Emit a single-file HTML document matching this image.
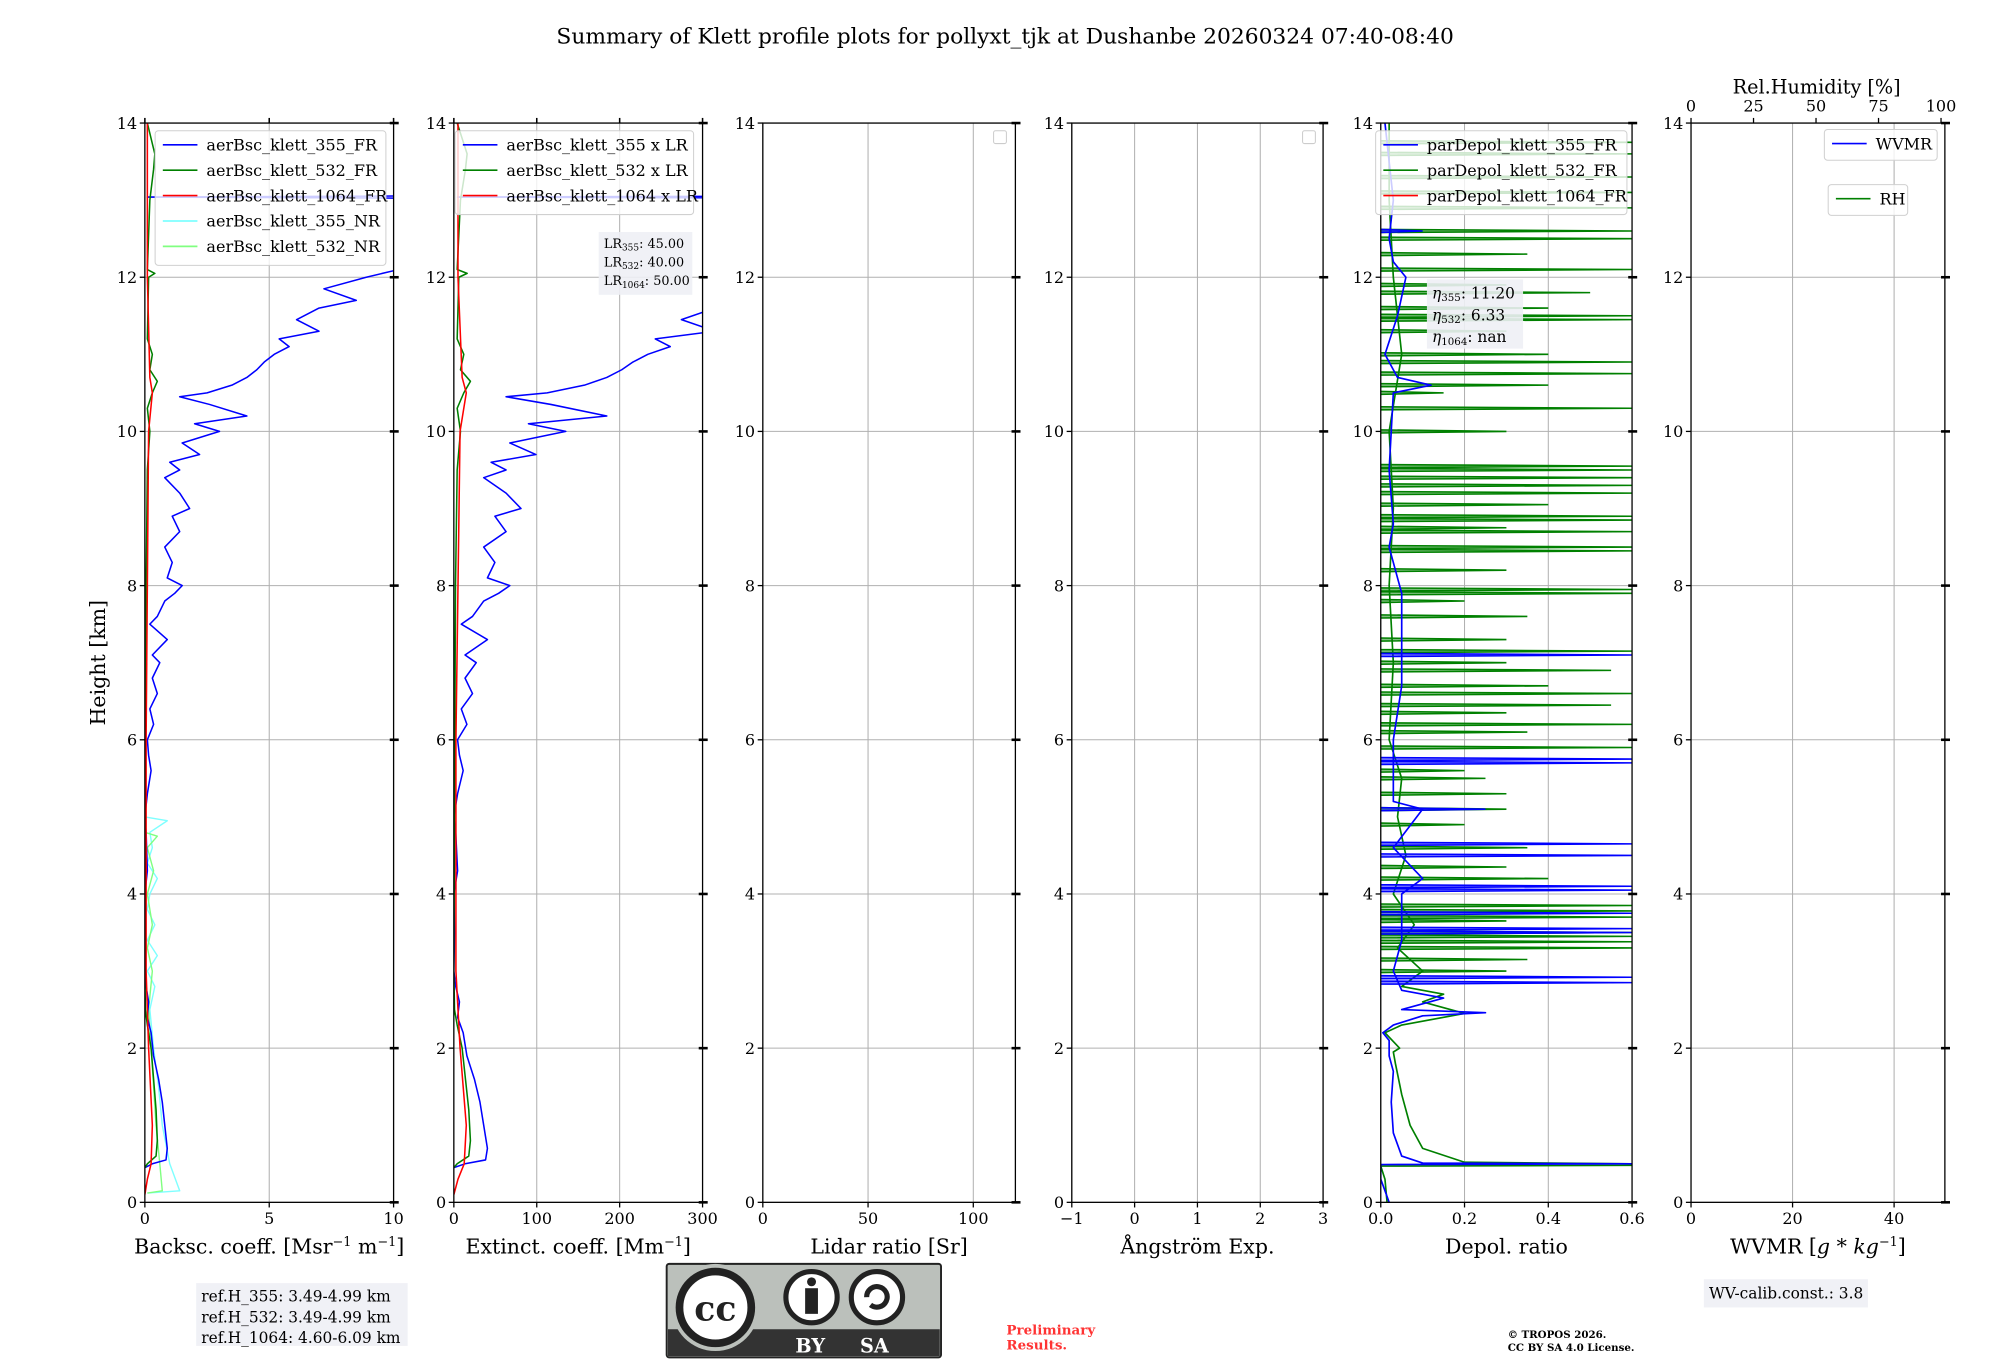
<!DOCTYPE html>
<html><head><meta charset="utf-8">
<style>
html,body{margin:0;padding:0;background:#fff;}
svg{display:block;}
text{font-family:"DejaVu Serif","Liberation Serif",serif;}
</style></head>
<body>
<svg id="fig" width="2000" height="1360" viewBox="0 0 1560 1061" preserveAspectRatio="none" xmlns="http://www.w3.org/2000/svg">
<rect x="0" y="0" width="1560" height="1061" fill="#fff"/>
<text x="784" y="34" font-size="17" text-anchor="middle">Summary of Klett profile plots for pollyxt_tjk at Dushanbe 20260324 07:40-08:40</text>
<text transform="translate(82,517) rotate(-90)" font-size="16" text-anchor="middle">Height [km]</text>
</svg>
<script>
// ---- data (height km, value) ----
const heightTicks = [0,2,4,6,8,10,12,14];
const lidarRatios = [45,40,50];
const bsc355FR = [[0.45,0.0],[0.5,0.3],[0.55,0.85],[0.7,0.9],[1.0,0.8],[1.3,0.7],[1.6,0.55],[1.9,0.35],[2.2,0.25],[2.4,0.1],[2.6,0.15],[2.8,0.05],[3.0,0.0],[3.5,0.02],[4.0,0.0],[4.3,0.1],[4.8,0.05],[5.0,0.0],[5.3,0.1],[5.6,0.25],[5.8,0.15],[6.0,0.1],[6.2,0.35],[6.4,0.2],[6.6,0.5],[6.8,0.3],[7.0,0.6],[7.1,0.3],[7.3,0.9],[7.5,0.2],[7.6,0.5],[7.8,0.8],[7.9,1.2],[8.0,1.5],[8.1,0.9],[8.3,1.1],[8.5,0.8],[8.7,1.4],[8.9,1.1],[9.0,1.8],[9.2,1.4],[9.4,0.8],[9.5,1.4],[9.6,1.0],[9.7,2.2],[9.85,1.5],[10.0,3.0],[10.1,2.0],[10.2,4.1],[10.35,2.6],[10.45,1.4],[10.5,2.5],[10.6,3.5],[10.7,4.1],[10.8,4.5],[10.9,4.8],[11.0,5.2],[11.1,5.8],[11.2,5.4],[11.3,7.0],[11.45,6.1],[11.6,7.0],[11.7,8.5],[11.85,7.2],[12.0,8.9],[12.1,10.2],[12.2,15],[13.02,15],[13.04,0.1],[13.06,15],[14,15]];
const bsc532FR = [[0.45,0],[0.5,0.1],[0.6,0.45],[0.8,0.5],[1.2,0.45],[1.6,0.35],[2.0,0.25],[2.3,0.1],[2.5,0.02],[3,0],[5,0.02],[8,0.05],[9.5,0.1],[10,0.2],[10.3,0.1],[10.5,0.3],[10.65,0.5],[10.8,0.2],[11,0.3],[11.2,0.1],[12,0.15],[12.05,0.4],[12.1,0.1],[13,0.2],[13.4,0.35],[13.6,0.4],[14,0.1]];
const bsc1064FR = [[0.1,0],[0.3,0.1],[0.5,0.25],[1,0.3],[2,0.15],[3,0.05],[6,0.05],[10,0.15],[10.5,0.3],[10.7,0.2],[12,0.1],[14,0.1]];
const bsc355NR = [[0.12,0.1],[0.15,1.4],[0.5,1.0],[1,0.7],[1.5,0.55],[2,0.35],[2.5,0.2],[2.8,0.4],[3.0,0.1],[3.2,0.5],[3.4,0.1],[3.6,0.4],[3.8,0.1],[4.0,0.2],[4.2,0.5],[4.4,0.1],[4.6,0.3],[4.8,0.2],[4.95,0.9],[5.0,0.0]];
const bsc532NR = [[0.12,0.1],[0.15,0.7],[0.5,0.6],[1,0.45],[2,0.25],[2.5,0.15],[3,0.3],[3.3,0.1],[3.6,0.3],[4,0.1],[4.3,0.35],[4.6,0.1],[4.75,0.5],[4.8,0.0]];
const depol355 = [[0,0.02],[0.3,0],[0.49,0.0],[0.5,0.6],[0.51,0.1],[0.6,0.05],[0.9,0.03],[1.3,0.025],[1.7,0.03],[1.9,0.02],[2.1,0.02],[2.2,0.005],[2.3,0.03],[2.42,0.1],[2.46,0.25],[2.5,0.05],[2.65,0.15],[2.75,0.05],[3.0,0.03],[3.4,0.05],[3.7,0.05],[4.0,0.05],[4.2,0.1],[4.6,0.03],[5.1,0.1],[5.2,0.03],[6.0,0.03],[6.7,0.05],[7.9,0.05],[8.5,0.02],[8.8,0.03],[9.5,0.02],[10.5,0.03],[10.6,0.12],[10.7,0.04],[11.0,0.01],[11.5,0.04],[12.0,0.06],[12.2,0.03],[12.5,0.02],[13,0.03],[13.5,0.02],[14,0.01]];
const depol355SpikeH = [2.85,2.92,3.5,3.55,3.75,4.05,4.1,4.5,4.65,5.1,5.7,5.75,7.1,12.6];
const depol355SpikeV = [0.6,0.6,0.6,0.6,0.6,0.6,0.6,0.6,0.6,0.25,0.6,0.6,0.6,0.1];
const depol532 = [[0,0.015],[0.3,0.01],[0.47,0],[0.48,0.6],[0.5,0.6],[0.52,0.2],[0.7,0.1],[1.0,0.07],[1.4,0.05],[1.8,0.035],[1.95,0.03],[2.0,0.045],[2.2,0.01],[2.3,0.05],[2.45,0.2],[2.6,0.1],[2.7,0.15],[2.8,0.05],[3.0,0.1],[3.3,0.04],[3.6,0.08],[4.0,0.03],[4.5,0.06],[5.0,0.04],[5.5,0.05],[6.0,0.02],[7.0,0.03],[8.0,0.02],[9.0,0.03],[10.0,0.02],[11.0,0.05],[12.0,0.03],[13.0,0.02],[14,0.02]];
const depol532SpikeH = [3.0,3.15,3.3,3.38,3.45,3.5,3.65,3.7,3.78,3.85,4.2,4.35,4.6,4.9,5.1,5.3,5.5,5.6,5.9,6.1,6.2,6.35,6.45,6.6,6.7,6.9,7.0,7.15,7.3,7.6,7.8,7.9,7.95,8.2,8.45,8.5,8.7,8.75,8.85,8.9,9.05,9.2,9.3,9.4,9.5,9.55,10.0,10.3,10.5,10.6,10.75,10.9,11.0,11.3,11.45,11.5,11.6,11.8,11.9,12.1,12.3,12.5,12.6,12.9,13.1,13.3,13.6,13.75];
const depol532SpikeV = [0.3,0.35,0.6,0.6,0.6,0.6,0.3,0.6,0.6,0.6,0.4,0.3,0.35,0.2,0.3,0.3,0.25,0.2,0.6,0.35,0.6,0.3,0.55,0.6,0.4,0.55,0.3,0.6,0.3,0.35,0.2,0.6,0.6,0.3,0.6,0.6,0.6,0.3,0.6,0.6,0.4,0.6,0.6,0.6,0.6,0.6,0.3,0.6,0.15,0.4,0.6,0.6,0.4,0.3,0.6,0.6,0.4,0.5,0.3,0.6,0.35,0.6,0.6,0.6,0.6,0.6,0.6,0.6];
const bscTicks = [0,5,10];
const extTicks = [0,100,200,300];
const lrTicks = [0,50,100];
const angTicks = [-1,0,1,2,3];
const depTicks = [0,0.2,0.4,0.6];
const depTickLabels = ["0.0","0.2","0.4","0.6"];
const wvTicks = [0,20,40];
const rhTicks = [0,25,50,75,100];

const NS = "http://www.w3.org/2000/svg";
const svg = document.getElementById('fig');
const Y0 = 938, Y1 = 96, HMAX = 14;
function yScale(h){ return Y0 - (h/HMAX)*(Y0-Y1); }
function mk(tag, attrs, parent){
  const e = document.createElementNS(NS, tag);
  for (const k in attrs) e.setAttribute(k, attrs[k]);
  (parent||svg).appendChild(e);
  return e;
}
let clipN = 0;
function makePanel(name, x0, x1, xmin, xmax, ticks, labels, xlabel, topTicks){
  const xs = v => x0 + (v-xmin)/(xmax-xmin)*(x1-x0);
  const g = mk('g', {});
  
  
  ticks.forEach(t => {
    const l = mk('line', {x1:xs(t), x2:xs(t), y1:Y1, y2:Y0, stroke:'#b0b0b0', 'stroke-width':0.8}, g);
    
    
  });
  heightTicks.forEach(h => {
    const l = mk('line', {x1:x0, x2:x1, y1:yScale(h), y2:yScale(h), stroke:'#b0b0b0', 'stroke-width':0.8}, g);
    
    
  });
  const cid = 'clip' + (clipN++);
  const cp = mk('clipPath', {id:cid}, g);
  mk('rect', {x:x0, y:Y1, width:x1-x0, height:Y0-Y1}, cp);
  const plot = mk('g', {'clip-path':'url(#'+cid+')'}, g);
  const sp = mk('rect', {x:x0, y:Y1, width:x1-x0, height:Y0-Y1, fill:'none', stroke:'#000', 'stroke-width':1}, g);
  
  
  ticks.forEach((t,i) => {
    const x = xs(t);
    mk('line', {x1:x, x2:x, y1:Y0, y2:Y0+4, stroke:'#000', 'stroke-width':1}, g);
    if (topTicks) mk('line', {x1:x, x2:x, y1:Y1, y2:Y1-4, stroke:'#000', 'stroke-width':1.2}, g);
    const tx = mk('text', {x:x, y:Y0+17, 'font-size':12.5, 'text-anchor':'middle'}, g);
    tx.textContent = labels[i];
    
    
  });
  heightTicks.forEach(h => {
    const y = yScale(h);
    mk('line', {x1:x0-4, x2:x0, y1:y, y2:y, stroke:'#000', 'stroke-width':1}, g);
    mk('line', {x1:x1-3, x2:x1+4, y1:y, y2:y, stroke:'#000', 'stroke-width':2}, g);
    const tx = mk('text', {x:x0-6, y:y+4.5, 'font-size':12.5, 'text-anchor':'end'}, g);
    tx.textContent = String(h);
    
    
  });
  const xl = mk('text', {x:(x0+x1)/2, y:Y0+40, 'font-size':16, 'text-anchor':'middle'}, g);
  xl.innerHTML = xlabel;
  
  
  return {xs, plot, g};
}
function drawLine(p, data, scale, color, width, name){
  const pts = data.map(d => p.xs(d[1]*scale).toFixed(2) + ',' + yScale(d[0]).toFixed(2)).join(' ');
  const pl = mk('polyline', {points:pts, fill:'none', stroke:color, 'stroke-width':width, 'stroke-linejoin':'round'}, p.plot);
  
  
}
function drawSpikes(p, hs, vs, color, name){
  hs.forEach((h,i) => {
    const y = yScale(h);
    const pl = mk('polyline', {points: p.xs(0)+','+(y+1.2)+' '+p.xs(vs[i])+','+y+' '+p.xs(0)+','+(y-1.2), fill:color, 'fill-opacity':0.5, stroke:color, 'stroke-width':1.2}, p.plot);
    
    
  });
}
function legend(p, x, y, w, entries, name, rowH){
  const g = mk('g', {}, p.g);
  
  
  mk('rect', {x:x, y:y, width:w, height:entries.length*rowH+6, rx:2.5, fill:'#fff', 'fill-opacity':0.8, stroke:'#d0d0d0', 'stroke-width':0.8}, g);
  entries.forEach((e,i) => {
    const yy = y + 11 + i*rowH;
    const ln = mk('line', {x1:x+6, x2:x+33, y1:yy, y2:yy, stroke:e[1], 'stroke-width':1.3}, g);
    
    
    const t = mk('text', {x:x+40, y:yy+4.5, 'font-size':12.5}, g);
    t.textContent = e[0];
    
    
  });
}
function textBox(parent, x, y, w, h, lines, size, name, lh){
  const g = mk('g', {}, parent);
  
  
  mk('rect', {x:x, y:y, width:w, height:h, fill:'#eef0f5', 'fill-opacity':0.9}, g);
  lines.forEach((l,i) => {
    const t = mk('text', {x:x+4, y:y+lh*(i+1)-2, 'font-size':size}, g);
    t.innerHTML = l;
  });
}
const C355='#0000ff', C532='#008000', C1064='#ff0000', CNR355='#7fffff', CNR532='#80ff80';

const p1 = makePanel('backscatter', 113, 307, 0, 10, bscTicks, bscTicks.map(String), 'Backsc. coeff. [Msr<tspan dy="-6" font-size="10">−1</tspan><tspan dy="6"> m</tspan><tspan dy="-6" font-size="10">−1</tspan><tspan dy="6">]</tspan>', true);
drawLine(p1, bsc355NR, 1, CNR355, 1.1, 'bsc-355-nr-line');
drawLine(p1, bsc532NR, 1, CNR532, 1.1, 'bsc-532-nr-line');
drawLine(p1, bsc355FR, 1, C355, 1.2, 'bsc-355-fr-line');
drawLine(p1, bsc532FR, 1, C532, 1.2, 'bsc-532-fr-line');
drawLine(p1, bsc1064FR, 1, C1064, 1.2, 'bsc-1064-fr-line');
legend(p1, 121, 102, 180, [['aerBsc_klett_355_FR',C355],['aerBsc_klett_532_FR',C532],['aerBsc_klett_1064_FR',C1064],['aerBsc_klett_355_NR',CNR355],['aerBsc_klett_532_NR',CNR532]], 'backscatter-legend', 19.8);

const p2 = makePanel('extinction', 354, 548, 0, 300, extTicks, extTicks.map(String), 'Extinct. coeff. [Mm<tspan dy="-6" font-size="10">−1</tspan><tspan dy="6">]</tspan>', true);
drawLine(p2, bsc355FR, lidarRatios[0], C355, 1.2, 'ext-355-line');
drawLine(p2, bsc532FR, lidarRatios[1], C532, 1.2, 'ext-532-line');
drawLine(p2, bsc1064FR, lidarRatios[2], C1064, 1.2, 'ext-1064-line');
legend(p2, 355, 102, 186, [['aerBsc_klett_355 x LR',C355],['aerBsc_klett_532 x LR',C532],['aerBsc_klett_1064 x LR',C1064]], 'extinction-legend', 19.8);
textBox(p2.g, 467, 181, 73, 49, ['LR<tspan font-size="7" dy="2">355</tspan><tspan dy="-2">: 45.00</tspan>','LR<tspan font-size="7" dy="2">532</tspan><tspan dy="-2">: 40.00</tspan>','LR<tspan font-size="7" dy="2">1064</tspan><tspan dy="-2">: 50.00</tspan>'], 10, 'lidar-ratio-box', 14.5);

const p3 = makePanel('lidar-ratio', 595, 792, 0, 120, lrTicks, lrTicks.map(String), 'Lidar ratio [Sr]', false);
const lg3 = mk('rect', {x:775, y:102, width:10, height:10, rx:1.5, fill:'#fff', stroke:'#ccc', 'stroke-width':0.8}, p3.g);



const p4 = makePanel('angstrom', 836, 1032, -1, 3, angTicks, ['−1','0','1','2','3'], 'Ångström Exp.', false);
const lg4 = mk('rect', {x:1016, y:102, width:10, height:10, rx:1.5, fill:'#fff', stroke:'#ccc', 'stroke-width':0.8}, p4.g);



const p5 = makePanel('depol', 1077, 1273, 0, 0.6, depTicks, depTickLabels, 'Depol. ratio', false);
drawLine(p5, depol532, 1, C532, 1.3, 'depol-532-line');
drawSpikes(p5, depol532SpikeH, depol532SpikeV, C532, 'depol-532-spike');
drawLine(p5, depol355, 1, C355, 1.3, 'depol-355-line');
drawSpikes(p5, depol355SpikeH, depol355SpikeV, C355, 'depol-355-spike');
legend(p5, 1073, 102, 196, [['parDepol_klett_355_FR',C355],['parDepol_klett_532_FR',C532],['parDepol_klett_1064_FR',C1064]], 'depol-legend', 19.8);
textBox(p5.g, 1113, 218, 75, 54, ['<tspan font-style="italic">η</tspan><tspan font-size="8" dy="2">355</tspan><tspan dy="-2">: 11.20</tspan>','<tspan font-style="italic">η</tspan><tspan font-size="8" dy="2">532</tspan><tspan dy="-2">: 6.33</tspan>','<tspan font-style="italic">η</tspan><tspan font-size="8" dy="2">1064</tspan><tspan dy="-2">: nan</tspan>'], 12, 'eta-box', 17);

const p6 = makePanel('wvmr', 1319, 1517, 0, 50, wvTicks, wvTicks.map(String), 'WVMR [<tspan font-style="italic">g</tspan> * <tspan font-style="italic">kg</tspan><tspan dy="-6" font-size="10">−1</tspan><tspan dy="6">]</tspan>', false);
const rhScale = v => 1319 + v/100*(1514-1319);
rhTicks.forEach(t => {
  mk('line', {x1:rhScale(t), x2:rhScale(t), y1:Y1, y2:Y1-4, stroke:'#000', 'stroke-width':1}, p6.g);
  const tx = mk('text', {x:rhScale(t), y:Y1-9, 'font-size':12.5, 'text-anchor':'middle'}, p6.g);
  tx.textContent = String(t);
  
  
});
const rhT = mk('text', {x:1417, y:73, 'font-size':15, 'text-anchor':'middle'}, p6.g);
rhT.textContent = 'Rel.Humidity [%]';


legend(p6, 1423, 101, 88, [['WVMR',C355]], 'wvmr-legend', 18);
legend(p6, 1426, 144, 62, [['RH',C532]], 'rh-legend', 18);

textBox(svg, 153, 1001, 165, 49, ['ref.H_355: 3.49-4.99 km','ref.H_532: 3.49-4.99 km','ref.H_1064: 4.60-6.09 km'], 12, 'reference-height-box', 16.3);
textBox(svg, 1329, 998, 128, 22, ['WV-calib.const.: 3.8'], 12, 'wv-calib-box', 17);
</script>
<svg style="position:absolute;left:0;top:0" width="2000" height="1360" viewBox="0 0 1560 1061" preserveAspectRatio="none" xmlns="http://www.w3.org/2000/svg" pointer-events="none">
<rect x="520" y="986" width="214" height="73" rx="2" fill="#bbc0bb" stroke="#222" stroke-width="1.5"/>
<rect x="521" y="1037" width="212" height="21" fill="#333"/>
<circle cx="558" cy="1020" r="34" fill="#bbc0bb"/>
<circle cx="558" cy="1020" r="28" fill="#fff" stroke="#222" stroke-width="6"/>
<text x="558" y="1030" font-size="27" font-weight="bold" text-anchor="middle" font-family="Liberation Sans, sans-serif" fill="#222">cc</text>
<circle cx="633" cy="1012" r="20" fill="#fff" stroke="#222" stroke-width="4"/>
<circle cx="633" cy="1000" r="3.5" fill="#222"/>
<rect x="628" y="1005" width="10" height="20" fill="#222"/>
<circle cx="684" cy="1012" r="20" fill="#fff" stroke="#222" stroke-width="4"/>
<path d="M676,1012 a8,8 0 1 1 3,6" fill="none" stroke="#222" stroke-width="4"/>
<text x="632" y="1055" font-size="15" font-weight="bold" fill="#fff" text-anchor="middle" font-family="Liberation Sans, sans-serif">BY</text>
<text x="682" y="1055" font-size="15" font-weight="bold" fill="#fff" text-anchor="middle" font-family="Liberation Sans, sans-serif">SA</text>
<text x="785" y="1041" font-size="10.5" font-weight="bold" fill="#ff3333" font-family="DejaVu Serif, serif">Preliminary</text>
<text x="785" y="1053" font-size="10.5" font-weight="bold" fill="#ff3333" font-family="DejaVu Serif, serif">Results.</text>
<text x="1176" y="1044" font-size="8" font-weight="bold" font-family="DejaVu Serif, serif">© TROPOS 2026.</text>
<text x="1176" y="1054" font-size="8" font-weight="bold" font-family="DejaVu Serif, serif">CC BY SA 4.0 License.</text>
</svg>
</body></html>
